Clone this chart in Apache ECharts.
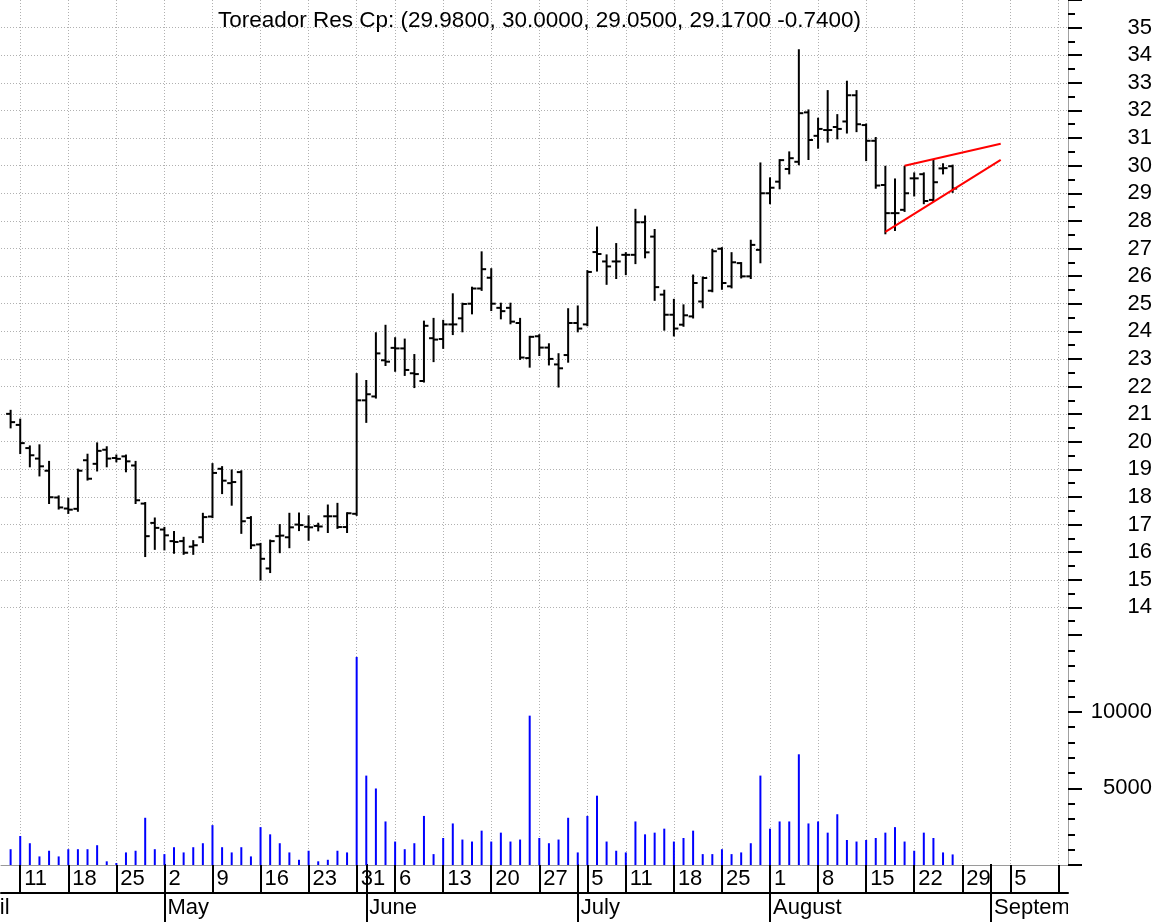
<!DOCTYPE html>
<html>
<head>
<meta charset="utf-8">
<script src="https://cdn.jsdelivr.net/npm/echarts@6/dist/echarts.min.js"></script>
<style>
html,body{margin:0;padding:0;background:#ffffff;}
#chart{width:1163px;height:922px;}
</style>
</head>
<body>
<div id="chart"></div>
<script>
// ---- Trading-day categories (2005), incl. one leading day and future days to the right edge ----
const dates = [
  '04-07','04-08','04-11','04-12','04-13','04-14','04-15','04-18','04-19','04-20','04-21','04-22','04-25','04-26','04-27','04-28','04-29',
  '05-02','05-03','05-04','05-05','05-06','05-09','05-10','05-11','05-12','05-13','05-16','05-17','05-18','05-19','05-20','05-23','05-24','05-25','05-26','05-27','05-31',
  '06-01','06-02','06-03','06-06','06-07','06-08','06-09','06-10','06-13','06-14','06-15','06-16','06-17','06-20','06-21','06-22','06-23','06-24','06-27','06-28','06-29','06-30',
  '07-01','07-05','07-06','07-07','07-08','07-11','07-12','07-13','07-14','07-15','07-18','07-19','07-20','07-21','07-22','07-25','07-26','07-27','07-28','07-29',
  '08-01','08-02','08-03','08-04','08-05','08-08','08-09','08-10','08-11','08-12','08-15','08-16','08-17','08-18','08-19','08-22','08-23','08-24','08-25','08-26','08-29','08-30','08-31',
  '09-01','09-02','09-05','09-06','09-07','09-08','09-09','09-12','09-13'
];
const firstBarDate = '04-08';
const year = 2005;

// ---- Daily OHLC (Apr 8 .. Aug 26) ----
const open = [
  21.01,
  20.61,19.77,19.39,18.95,17.98,
  17.58,17.57,19.33,19.20,19.71,
  19.41,19.47,19.14,17.76,17.06,
  16.82,16.40,16.40,16.20,16.54,
  17.29,19.02,18.50,18.90,17.24,
  16.28,15.41,16.58,16.54,17.00,
  16.92,16.95,17.30,17.30,16.91,
  17.39,21.50,21.64,22.95,
  23.40,23.38,22.48,22.20,23.75,
  23.72,24.25,24.47,25.00,25.55,
  25.94,24.85,24.85,24.30,23.03,
  23.82,23.41,22.80,23.14,24.30,
  24.25,26.87,26.53,26.53,
  26.77,26.77,27.95,27.43,25.33,
  24.60,24.24,24.54,25.08,25.47,
  26.99,25.63,26.47,25.99,26.95,
  29.00,29.42,29.88,30.14,31.93,
  31.08,31.29,31.40,31.60,32.55,
  31.47,30.90,29.30,28.28,28.40,
  29.54,29.69,28.76,29.90,29.98
];
const high = [
  21.12,
  20.80,19.83,19.87,19.27,18.02,
  17.94,18.99,19.53,19.94,19.80,
  19.50,19.50,19.27,17.78,17.22,
  16.88,16.73,16.52,16.40,17.39,
  19.19,19.08,18.96,18.93,17.27,
  16.30,16.42,16.98,17.39,17.40,
  17.30,17.03,17.69,17.75,17.41,
  22.45,22.20,23.93,24.20,
  23.75,23.70,23.14,24.35,24.45,
  24.38,25.34,25.00,25.58,26.86,
  26.25,25.00,25.00,24.45,23.80,
  23.86,23.53,23.17,24.80,24.90,
  26.18,27.76,26.75,27.16,
  26.83,28.40,28.16,27.67,25.47,
  25.14,24.94,26.02,25.95,26.95,
  27.01,26.83,26.47,27.28,30.08,
  29.54,30.20,30.48,34.18,32.00,
  31.70,32.70,31.83,33.04,32.70,
  31.49,31.00,29.96,29.50,29.96,
  29.72,29.72,30.20,30.05,30.00
];
const low = [
  20.52,
  19.59,19.11,18.78,17.78,17.58,
  17.42,17.50,18.63,18.96,19.11,
  19.29,18.93,17.78,15.86,16.12,
  16.10,15.98,15.94,15.94,16.37,
  17.27,18.14,17.72,16.70,16.15,
  15.01,15.28,16.00,16.18,16.80,
  16.45,16.79,16.73,16.88,16.73,
  17.35,20.72,21.60,22.78,
  22.57,22.42,21.98,22.18,22.92,
  23.40,23.90,24.00,24.65,25.50,
  24.77,24.47,24.29,23.00,22.72,
  23.14,22.80,22.00,22.90,24.00,
  24.22,26.20,25.72,25.93,
  26.07,26.47,26.68,25.14,24.06,
  23.85,24.20,24.50,24.87,25.45,
  25.54,25.59,25.95,25.93,26.50,
  28.64,29.18,29.72,30.05,30.24,
  30.65,30.87,30.99,31.20,31.25,
  30.20,29.20,27.55,27.67,28.36,
  28.92,28.64,28.72,29.72,29.05
];
const close = [
  20.71,
  19.95,19.51,19.11,17.99,17.62,
  17.54,18.95,18.66,19.67,19.39,
  19.38,19.29,17.88,16.58,16.88,
  16.61,16.37,15.98,16.25,17.27,
  18.87,18.59,18.54,17.12,16.25,
  15.76,16.40,16.60,16.90,16.98,
  16.90,16.93,17.30,16.91,17.41,
  21.50,21.72,23.20,22.90,
  23.38,22.60,22.45,24.20,23.70,
  24.25,24.25,24.99,25.55,26.25,
  25.00,24.73,24.35,23.05,23.80,
  23.41,23.00,22.66,24.30,24.10,
  26.15,26.80,26.35,26.53,
  26.77,27.95,26.86,25.60,24.60,
  24.10,24.58,25.75,25.93,26.90,
  25.75,26.50,25.99,27.13,29.00,
  29.20,30.20,30.27,31.90,30.93,
  31.33,31.29,31.33,32.55,31.50,
  30.90,29.28,28.28,28.28,29.00,
  29.54,28.72,29.40,29.91,29.17
];
// ---- Daily volume ----
const volume = [
  1030,
  1890,1420,560,930,560,
  1030,1030,1030,1290,240,
  130,820,930,3080,1030,
  710,1160,820,1160,1420,
  2600,1160,820,1160,560,
  2470,2000,1420,820,340,
  930,240,340,930,820,
  13570,5830,4990,2840,
  1530,1030,1420,3200,710,
  1760,2710,1660,1530,2240,
  1530,2110,1530,1660,9740,
  1760,1420,1660,3080,820,
  3200,4520,1530,930,
  820,2840,2000,2110,2370,
  1530,1760,2240,710,710,
  1030,710,820,1420,5830,
  2370,2840,2840,7220,2710,
  2840,2110,3310,1630,1530,
  1630,1760,2110,2470,1530,
  930,2110,1760,820,690
];
// ---- Drawn trend lines (wedge) ----
const upperTrend = [['08-19', 30.00], ['09-02', 30.79]];
const lowerTrend = [['08-17', 27.60], ['09-02', 30.21]];
// ---- Axis setup values ----
const priceMin = 13, priceMax = 36;
const volMin = 0, volMax = 15000;
const volLabels = [5000, 10000];
const monthNames = ['January','February','March','April','May','June','July','August','September','October','November','December'];
const tickerName = 'Toreador Res Cp';

// ---- Derived helpers ----
const firstIdx = dates.indexOf(firstBarDate);
const dObj = dates.map(s => { const [m, d] = s.split('-').map(Number); return new Date(year, m - 1, d); });
function isWeekStart(i) { return i > 0 && dObj[i].getDay() <= dObj[i - 1].getDay(); }
function isMonthStart(i) { return i > 0 && dObj[i].getMonth() !== dObj[i - 1].getMonth(); }
// month label anchors: month of the first category (starts before the view) + each month start
const monthAnchors = [];
{
  const m0 = dObj[0].getMonth();
  let back = 0; const d = new Date(dObj[0]);
  while (true) {
    const p = new Date(d); p.setDate(p.getDate() - 1);
    while (p.getDay() === 0 || p.getDay() === 6) p.setDate(p.getDate() - 1);
    if (p.getMonth() !== m0) break;
    d.setTime(p.getTime()); back++;
  }
  monthAnchors.push([-back, monthNames[m0]]);
  dates.forEach((s, i) => { if (isMonthStart(i)) monthAnchors.push([i, monthNames[dObj[i].getMonth()]]); });
}

const ohlcData = open.map((o, i) => [i + firstIdx, o, high[i], low[i], close[i]]);
const volData = volume.map((v, i) => [i + firstIdx, v]);
const n = open.length;
const prevClose = close[n - 2];
const titleText = tickerName + ': (' + open[n-1].toFixed(4) + ', ' + high[n-1].toFixed(4) + ', ' + low[n-1].toFixed(4) + ', ' + close[n-1].toFixed(4) + ' ' + (close[n-1] - prevClose).toFixed(4) + ')';

const FONT = "'Liberation Sans', Arial, sans-serif";
const gridDot = { color: '#b0b0b0', width: 1, type: [1, 2] };
const L = 1, R = 95;

const chart = echarts.init(document.getElementById('chart'), null, { renderer: 'canvas' });
chart.setOption({
  animation: false,
  backgroundColor: '#ffffff',
  textStyle: { fontFamily: FONT },
  title: {
    text: titleText, left: 213, top: 4,
    textStyle: { fontSize: 22.5, fontWeight: 'normal', color: '#000', fontFamily: FONT }
  },
  grid: [
    { left: L, right: R, top: 0, height: 635 },
    { left: L, right: R, top: 635, height: 230 },
    { left: L, right: R, top: 864, height: 58 }
  ],
  xAxis: [
    { gridIndex: 0, type: 'category', data: dates, boundaryGap: false,
      axisLine: { show: false }, axisTick: { show: false }, axisLabel: { show: false },
      splitLine: { show: true, interval: (i) => isWeekStart(i), lineStyle: gridDot } },
    { gridIndex: 1, type: 'category', data: dates, boundaryGap: false,
      axisLine: { show: true, lineStyle: { color: '#9a9a9a', width: 1 } },
      axisTick: { show: true, interval: (i) => isWeekStart(i), length: 29, lineStyle: { color: '#000', width: 2 } },
      axisLabel: { show: true, interval: (i) => isWeekStart(i),
        formatter: (v) => (dates.indexOf(v) > dates.length - 3 ? '' : String(parseInt(v.split('-')[1], 10))),
        align: 'left', verticalAlign: 'middle', margin: 14, padding: [0, 0, 0, 4],
        fontSize: 22, color: '#000', fontFamily: FONT },
      splitLine: { show: true, interval: (i) => isWeekStart(i), lineStyle: gridDot } },
    { gridIndex: 2, type: 'category', data: dates, boundaryGap: false, position: 'bottom', offset: -29,
      axisLine: { show: true, lineStyle: { color: '#000', width: 2 } },
      axisTick: { show: false }, axisLabel: { show: false }, splitLine: { show: false } },
    { gridIndex: 2, type: 'category', data: dates, boundaryGap: false, position: 'top',
      axisLine: { show: false },
      axisTick: { show: true, inside: true, interval: (i) => isMonthStart(i), length: 58, lineStyle: { color: '#000', width: 2 } },
      axisLabel: { show: false }, splitLine: { show: false } }
  ],
  yAxis: [
    { gridIndex: 0, type: 'value', position: 'right', min: priceMin, max: priceMax, interval: 1,
      axisLine: { show: true, lineStyle: { color: '#a0a0a0', width: 1 } },
      axisTick: { show: true, length: 14, lineStyle: { color: '#000', width: 2 } },
      minorTick: { show: true, splitNumber: 2, length: 7, lineStyle: { color: '#000', width: 2 } },
      axisLabel: { show: true, align: 'right', margin: 84, fontSize: 22, color: '#000', fontFamily: FONT,
        formatter: (v) => (v === priceMin || v === priceMax ? '' : String(v)) },
      splitLine: { show: true, showMinLine: false, showMaxLine: false, lineStyle: gridDot } },
    { gridIndex: 1, type: 'value', position: 'right', min: volMin, max: volMax, interval: 5000,
      axisLine: { show: true, lineStyle: { color: '#a0a0a0', width: 1 } },
      axisTick: { show: true, length: 14, lineStyle: { color: '#000', width: 2 } },
      minorTick: { show: true, splitNumber: 5, length: 7, lineStyle: { color: '#000', width: 2 } },
      axisLabel: { show: true, align: 'right', margin: 84, fontSize: 22, color: '#000', fontFamily: FONT,
        formatter: (v) => (volLabels.indexOf(v) >= 0 ? String(v) : '') },
      splitLine: { show: false } },
    { gridIndex: 2, type: 'value', min: 0, max: 2, show: false }
  ],
  series: [
    { type: 'custom', name: 'ohlc', xAxisIndex: 0, yAxisIndex: 0, data: ohlcData,
      encode: { x: 0, y: [1, 2, 3, 4] },
      renderItem: function (params, api) {
        const x = api.value(0);
        const pH = api.coord([x, api.value(2)]);
        const pL = api.coord([x, api.value(3)]);
        const pO = api.coord([x, api.value(1)]);
        const pC = api.coord([x, api.value(4)]);
        const st = { stroke: '#000', lineWidth: 2 };
        return { type: 'group', children: [
          { type: 'line', shape: { x1: pH[0], y1: pH[1] - 1, x2: pL[0], y2: pL[1] + 1 }, style: st },
          { type: 'line', shape: { x1: pO[0] - 4.5, y1: pO[1], x2: pO[0], y2: pO[1] }, style: st },
          { type: 'line', shape: { x1: pC[0], y1: pC[1], x2: pC[0] + 4.5, y2: pC[1] }, style: st }
        ] };
      } },
    { type: 'line', xAxisIndex: 0, yAxisIndex: 0, data: upperTrend, symbol: 'none',
      lineStyle: { color: '#ff0000', width: 2 }, silent: true },
    { type: 'line', xAxisIndex: 0, yAxisIndex: 0, data: lowerTrend, symbol: 'none',
      lineStyle: { color: '#ff0000', width: 2 }, silent: true },
    { type: 'bar', xAxisIndex: 1, yAxisIndex: 1, data: volData, barWidth: 2,
      itemStyle: { color: '#0000ff' } },
    { type: 'custom', name: 'months', xAxisIndex: 2, yAxisIndex: 2, clip: true,
      data: monthAnchors.map((a) => [Math.max(a[0], 0), 0.5]),
      renderItem: function (params, api) {
        const a = monthAnchors[params.dataIndex];
        const p0 = api.coord([0, 0.5]);
        const p1 = api.coord([1, 0.5]);
        const x = p0[0] + a[0] * (p1[0] - p0[0]) + 3;
        return { type: 'text', style: { text: a[1], x: x, y: p0[1], fill: '#000',
          fontSize: 22, fontFamily: FONT, align: 'left', verticalAlign: 'middle',
          textAlign: 'left', textVerticalAlign: 'middle' } };
      } }
  ]
});
</script>
</body>
</html>
